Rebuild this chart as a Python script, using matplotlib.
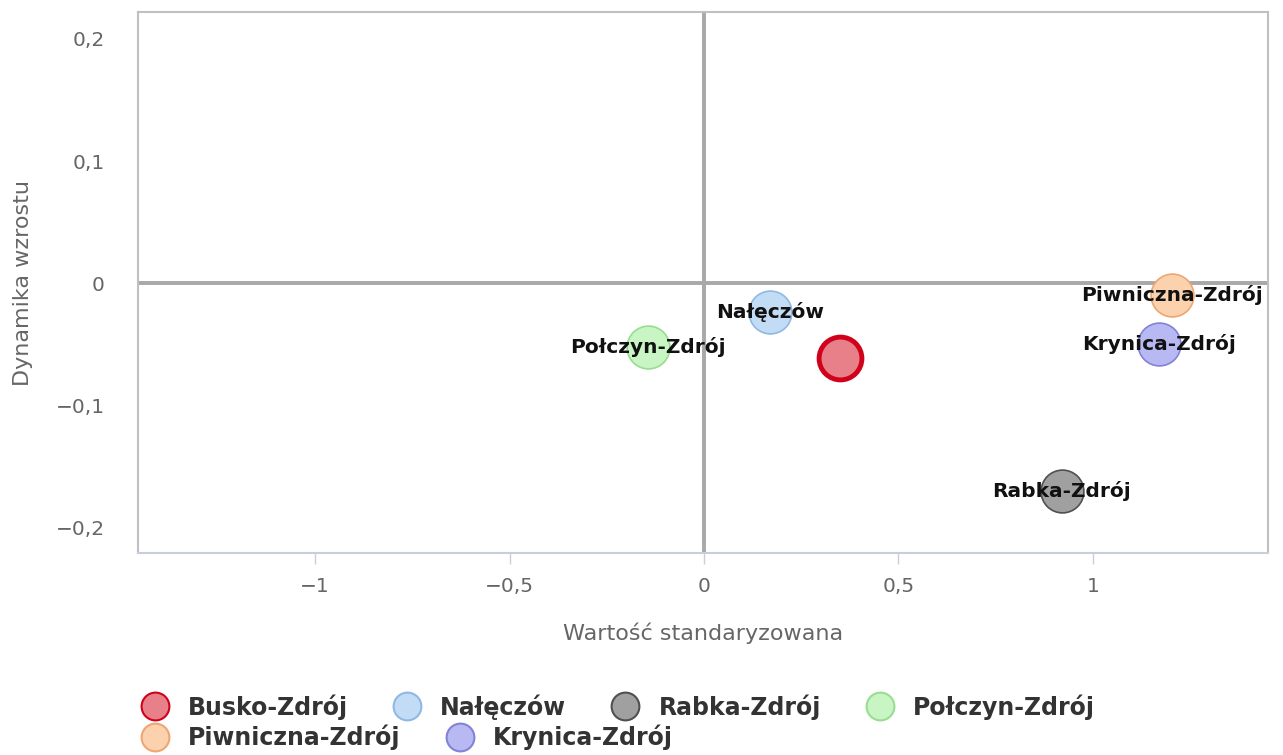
import matplotlib.pyplot as plt
from matplotlib.lines import Line2D
from matplotlib.ticker import FuncFormatter

# dane
names = ["Busko-Zdrój", "Nałęczów", "Rabka-Zdrój", "Połczyn-Zdrój", "Piwniczna-Zdrój", "Krynica-Zdrój"]
x_vals = [0.35, 0.17, 0.92, -0.144, 1.203, 1.17]
y_vals = [-0.0615, -0.024, -0.17, -0.052, -0.01, -0.05]

fills = ["#e8808a", "#c2dcf5", "#a0a0a0", "#c8f5c3", "#fbd2ad", "#b8b8f2"]
edges = ["#d0021b", "#8fb9e3", "#505050", "#98dd90", "#eea672", "#8282d6"]
edge_w = [3.5, 1.2, 1.2, 1.2, 1.2, 1.2]

fig = plt.figure(figsize=(12.83, 7.55), dpi=100)
ax = fig.add_axes([0.1076, 0.2675, 0.8807, 0.7166])

for i in range(len(names)):
    ax.scatter(x_vals[i], y_vals[i], s=950, color=fills[i], edgecolors=edges[i],
               linewidths=edge_w[i], zorder=3)
    if i > 0:
        ax.text(x_vals[i], y_vals[i], names[i], ha="center", va="center",
                fontsize=14.5, fontweight="bold", color="#111111", zorder=4)

ax.axhline(0, color="#a8a8a8", lw=2.8, zorder=1)
ax.axvline(0, color="#a8a8a8", lw=2.8, zorder=1)

ax.set_xlim(-1.455, 1.45)
ax.set_ylim(-0.221, 0.222)
ax.set_xticks([-1, -0.5, 0, 0.5, 1])
ax.set_yticks([-0.2, -0.1, 0, 0.1, 0.2])
fmt = FuncFormatter(lambda v, p: ("%g" % round(v, 2)).replace(".", ",").replace("-", "\u2212"))
ax.xaxis.set_major_formatter(fmt)
ax.yaxis.set_major_formatter(fmt)

for s in ax.spines.values():
    s.set_color("#c0c0c0")
    s.set_linewidth(1.5)
ax.spines["bottom"].set_color("#c6d0dc")

ax.tick_params(axis="x", length=8, width=1, color="#c6d0dc", labelsize=14.5,
               labelcolor="#666666", pad=9)
ax.tick_params(axis="y", length=0, labelsize=14.5, labelcolor="#666666", pad=24)

ax.set_xlabel("Wartość standaryzowana", fontsize=16, color="#666666", labelpad=19)
ax.set_ylabel("Dynamika wzrostu", fontsize=16, color="#666666", labelpad=16)

def handle(i):
    return Line2D([], [], marker="o", linestyle="none", markersize=20,
                  markerfacecolor=fills[i], markeredgecolor=edges[i],
                  markeredgewidth=1.5)

legend_style = dict(loc="center left", frameon=False,
                    prop={"weight": "bold", "size": 17},
                    handlelength=1.0, handletextpad=0.9, columnspacing=2.0,
                    borderaxespad=0, borderpad=0)

row1 = [0, 1, 2, 3]
row2 = [4, 5]
leg1 = fig.legend([handle(i) for i in row1], [names[i] for i in row1],
                  bbox_to_anchor=(0.1116, 0.0636), ncol=4, **legend_style)
leg2 = fig.legend([handle(i) for i in row2], [names[i] for i in row2],
                  bbox_to_anchor=(0.1116, 0.0235), ncol=2, **legend_style)
for leg in (leg1, leg2):
    for t in leg.get_texts():
        t.set_color("#333333")

fig.savefig("out.png", dpi=100)
